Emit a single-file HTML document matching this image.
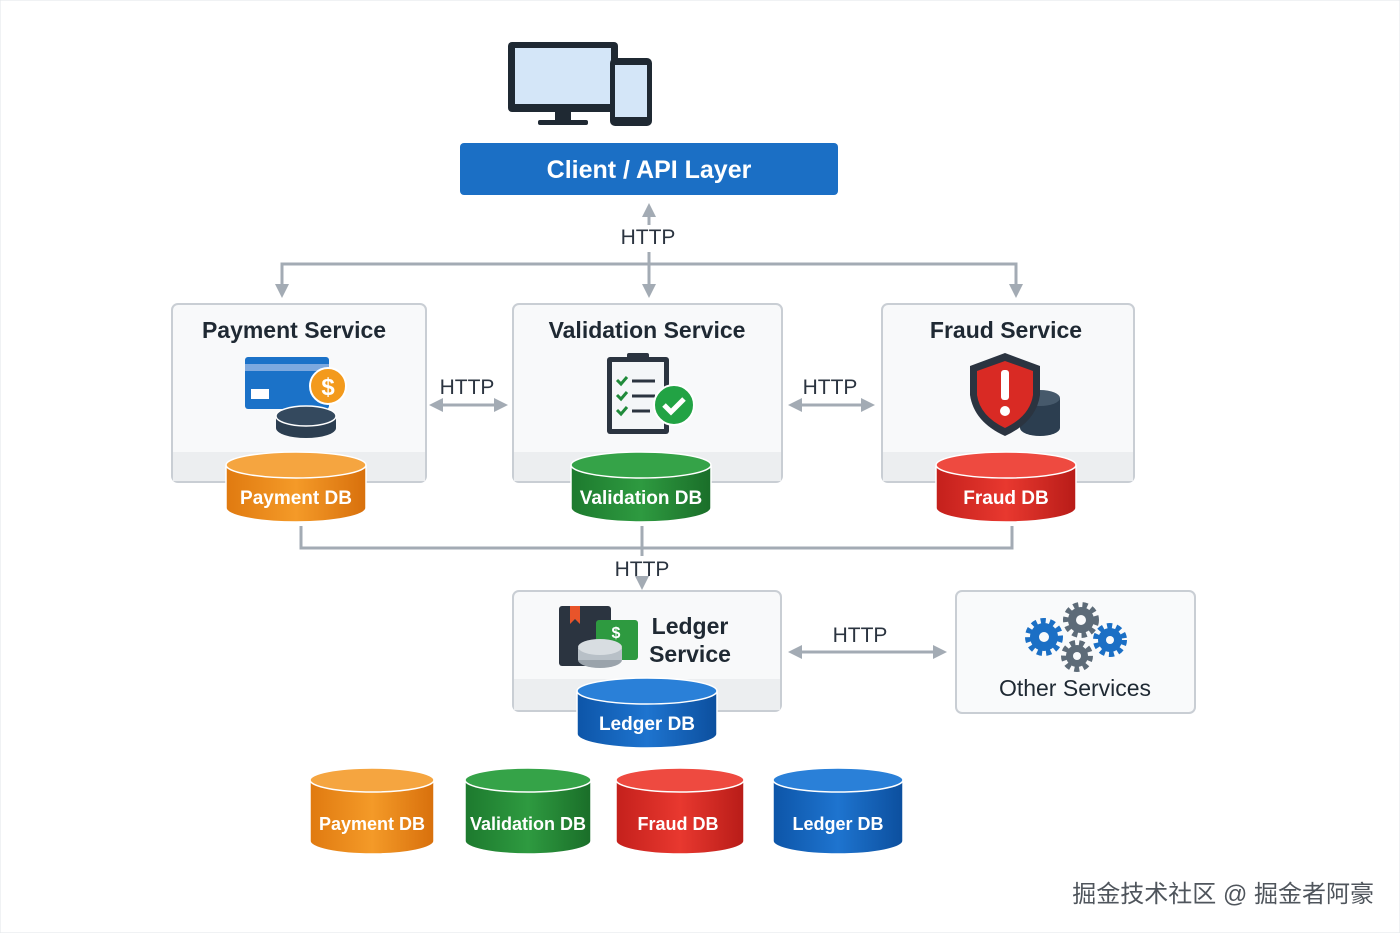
<!DOCTYPE html>
<html><head><meta charset="utf-8"><style>body{margin:0;background:#fff}svg{display:block}text{font-family:"Liberation Sans","DejaVu Sans",sans-serif}</style></head>
<body>
<svg width="1400" height="933" viewBox="0 0 1400 933" xmlns="http://www.w3.org/2000/svg">
<defs>
<linearGradient id="o" x1="0" x2="1"><stop offset="0" stop-color="#e07a10"/><stop offset=".5" stop-color="#f49a28"/><stop offset="1" stop-color="#d8700c"/></linearGradient>
<linearGradient id="g" x1="0" x2="1"><stop offset="0" stop-color="#1d7a2e"/><stop offset=".5" stop-color="#2e9a40"/><stop offset="1" stop-color="#1a6e29"/></linearGradient>
<linearGradient id="r" x1="0" x2="1"><stop offset="0" stop-color="#c4201c"/><stop offset=".5" stop-color="#e8382f"/><stop offset="1" stop-color="#b81c18"/></linearGradient>
<linearGradient id="b" x1="0" x2="1"><stop offset="0" stop-color="#0d55a8"/><stop offset=".5" stop-color="#1e74cf"/><stop offset="1" stop-color="#0c4f9e"/></linearGradient>
<marker id="ah" markerWidth="14" markerHeight="14" refX="7" refY="7" orient="auto-start-reverse" markerUnits="userSpaceOnUse"><path d="M0,0 L14,7 L0,14 z" fill="#a3abb4"/></marker>
</defs>
<rect x="0" y="0" width="1400" height="933" fill="#fff" stroke="#e2e5e8"/>
<rect x="508" y="42" width="110" height="70" rx="4" fill="#1f2933"/>
<rect x="515" y="48" width="96" height="56" fill="#d4e6f8"/>
<rect x="555" y="112" width="16" height="10" fill="#1f2933"/><rect x="538" y="120" width="50" height="5" rx="2" fill="#1f2933"/>
<rect x="610" y="58" width="42" height="68" rx="5" fill="#1f2933"/>
<rect x="615" y="65" width="32" height="52" fill="#d4e6f8"/>
<rect x="460" y="143" width="378" height="52" rx="4" fill="#1b6fc5"/>
<text x="649" y="178" font-size="25" font-weight="bold" fill="#fff" text-anchor="middle">Client / API Layer</text>
<g stroke="#a3abb4" stroke-width="3" fill="none">
<line x1="649" y1="225" x2="649" y2="210" marker-end="url(#ah)"/>
<polyline points="282,288 282,264 1016,264 1016,288"/>
<line x1="649" y1="252" x2="649" y2="288"/>
<line x1="282" y1="284" x2="282" y2="291" marker-end="url(#ah)"/>
<line x1="649" y1="284" x2="649" y2="291" marker-end="url(#ah)"/>
<line x1="1016" y1="284" x2="1016" y2="291" marker-end="url(#ah)"/>
<line x1="436" y1="405" x2="501" y2="405" marker-end="url(#ah)" marker-start="url(#ah)"/>
<line x1="795" y1="405" x2="868" y2="405" marker-end="url(#ah)" marker-start="url(#ah)"/>
<polyline points="301,526 301,548 1012,548 1012,526"/>
<line x1="642" y1="526" x2="642" y2="556"/>
<line x1="642" y1="578" x2="642" y2="583" marker-end="url(#ah)"/>
<line x1="795" y1="652" x2="940" y2="652" marker-end="url(#ah)" marker-start="url(#ah)"/>
</g>
<g font-size="21" fill="#2b3440" text-anchor="middle">
<text x="648" y="244">HTTP</text>
<text x="467" y="394">HTTP</text>
<text x="830" y="394">HTTP</text>
<text x="642" y="576">HTTP</text>
<text x="860" y="642">HTTP</text>
</g>
<g stroke="#c9ced4" stroke-width="2">
<rect x="172" y="304" width="254" height="178" rx="6" fill="#f8f9fa"/>
<rect x="513" y="304" width="269" height="178" rx="6" fill="#f8f9fa"/>
<rect x="882" y="304" width="252" height="178" rx="6" fill="#f8f9fa"/>
<rect x="513" y="591" width="268" height="120" rx="6" fill="#f8f9fa"/>
<rect x="956" y="591" width="239" height="122" rx="6" fill="#f9fafb"/>
</g>
<g fill="#eceef0">
<rect x="173" y="452" width="252" height="29"/><rect x="514" y="452" width="267" height="29"/><rect x="883" y="452" width="250" height="29"/><rect x="514" y="679" width="266" height="31"/>
</g>
<g font-size="23" font-weight="bold" fill="#1f2933" text-anchor="middle">
<text x="294" y="338">Payment Service</text>
<text x="647" y="338">Validation Service</text>
<text x="1006" y="338">Fraud Service</text>
<text x="690" y="634">Ledger</text>
<text x="690" y="662">Service</text>
<text x="1075" y="696" font-weight="normal">Other Services</text>
</g>
<rect x="245" y="357" width="84" height="52" rx="3" fill="#1b72c8"/><rect x="245" y="364" width="84" height="7" fill="#7da9df"/><rect x="251" y="389" width="18" height="10" fill="#fff"/>
<circle cx="328" cy="386" r="18" fill="#f39a1c" stroke="#fff" stroke-width="2"/><text x="328" y="395" font-size="24" font-weight="bold" fill="#fff" text-anchor="middle">$</text>
<ellipse cx="306" cy="428" rx="30" ry="10" fill="#2c3e50"/><rect x="276" y="416" width="60" height="12" fill="#2c3e50"/><ellipse cx="306" cy="416" rx="30" ry="10" fill="#34495e" stroke="#fff" stroke-width="1.5"/>
<rect x="607" y="357" width="62" height="77" rx="3" fill="#2b3440"/><rect x="612" y="362" width="52" height="67" fill="#f4f6f8"/><rect x="627" y="353" width="22" height="8" rx="2" fill="#2b3440"/>
<g stroke="#1f8a3a" stroke-width="3" fill="none"><path d="M617,380l4,4 6,-7"/><path d="M617,395l4,4 6,-7"/><path d="M617,410l4,4 6,-7"/></g>
<g stroke="#2b3440" stroke-width="3"><line x1="632" y1="381" x2="655" y2="381"/><line x1="632" y1="396" x2="655" y2="396"/><line x1="632" y1="411" x2="650" y2="411"/></g>
<circle cx="674" cy="405" r="20" fill="#22a344" stroke="#fff" stroke-width="2"/><path d="M664,405l7,7 13,-13" stroke="#fff" stroke-width="5" fill="none"/>
<ellipse cx="1040" cy="428" rx="20" ry="8" fill="#2c3e50"/><rect x="1020" y="398" width="40" height="30" fill="#2c3e50"/><ellipse cx="1040" cy="398" rx="20" ry="8" fill="#46596b"/>
<path d="M1005,353 L1040,366 L1040,395 Q1036,422 1005,436 Q974,422 970,395 L970,366 Z" fill="#2b3440"/>
<path d="M1005,361 L1033,371 L1033,395 Q1030,416 1005,428 Q980,416 977,395 L977,371 Z" fill="#d92a24"/>
<rect x="1001" y="370" width="8" height="30" rx="3" fill="#fff"/><circle cx="1005" cy="411" r="5" fill="#fff"/>
<rect x="559" y="606" width="52" height="60" rx="3" fill="#2b3440"/><path d="M570,606v18l5,-5 5,5v-18z" fill="#e8542a"/>
<rect x="596" y="620" width="42" height="40" rx="3" fill="#2e9a40"/><text x="616" y="638" font-size="16" font-weight="bold" fill="#fff" text-anchor="middle">$</text>
<ellipse cx="600" cy="660" rx="22" ry="8" fill="#9aa3ab"/><rect x="578" y="648" width="44" height="12" fill="#b8c0c7"/><ellipse cx="600" cy="647" rx="22" ry="8" fill="#d8dde1"/>
<g fill="#1b6fc5"><circle cx="1044" cy="637" r="14"/><circle cx="1110" cy="640" r="12"/></g>
<g fill="#5d6b78"><circle cx="1081" cy="620" r="13"/><circle cx="1077" cy="656" r="11"/></g>
<g stroke-dasharray="5 4" stroke-width="6" fill="none"><circle cx="1044" cy="637" r="16" stroke="#1b6fc5"/><circle cx="1110" cy="640" r="14" stroke="#1b6fc5"/><circle cx="1081" cy="620" r="15" stroke="#5d6b78"/><circle cx="1077" cy="656" r="13" stroke="#5d6b78"/></g>
<g fill="#f9fafb"><circle cx="1044" cy="637" r="5"/><circle cx="1110" cy="640" r="4"/><circle cx="1081" cy="620" r="5"/><circle cx="1077" cy="656" r="4"/></g>
<g stroke="#fff" stroke-width="1.5">
<path d="M226,465 V508 A70,14 0 0 0 366,508 V465" fill="url(#o)"/><ellipse cx="296" cy="465" rx="70" ry="13" fill="#f5a540"/>
<path d="M571,465 V508 A70,14 0 0 0 711,508 V465" fill="url(#g)"/><ellipse cx="641" cy="465" rx="70" ry="13" fill="#35a348"/>
<path d="M936,465 V508 A70,14 0 0 0 1076,508 V465" fill="url(#r)"/><ellipse cx="1006" cy="465" rx="70" ry="13" fill="#ee4a40"/>
<path d="M577,691 V734 A70,14 0 0 0 717,734 V691" fill="url(#b)"/><ellipse cx="647" cy="691" rx="70" ry="13" fill="#2a80d8"/>
<path d="M310,780 V841 A62,13 0 0 0 434,841 V780" fill="url(#o)"/><ellipse cx="372" cy="780" rx="62" ry="12" fill="#f5a540"/>
<path d="M465,780 V841 A63,13 0 0 0 591,841 V780" fill="url(#g)"/><ellipse cx="528" cy="780" rx="63" ry="12" fill="#35a348"/>
<path d="M616,780 V841 A64,13 0 0 0 744,841 V780" fill="url(#r)"/><ellipse cx="680" cy="780" rx="64" ry="12" fill="#ee4a40"/>
<path d="M773,780 V841 A65,13 0 0 0 903,841 V780" fill="url(#b)"/><ellipse cx="838" cy="780" rx="65" ry="12" fill="#2a80d8"/>
</g>
<g font-size="19" font-weight="bold" fill="#fff" text-anchor="middle">
<text x="296" y="504">Payment DB</text>
<text x="641" y="504">Validation DB</text>
<text x="1006" y="504">Fraud DB</text>
<text x="647" y="730">Ledger DB</text>
</g>
<g font-size="18" font-weight="bold" fill="#fff" text-anchor="middle">
<text x="372" y="830">Payment DB</text>
<text x="528" y="830">Validation DB</text>
<text x="678" y="830">Fraud DB</text>
<text x="838" y="830">Ledger DB</text>
</g>
<text x="1374" y="902" font-size="24" fill="#4f555c" text-anchor="end" style='font-family:"Liberation Sans","Noto Sans CJK SC",sans-serif'>掘金技术社区 @ 掘金者阿豪</text>
</svg>
</body></html>
